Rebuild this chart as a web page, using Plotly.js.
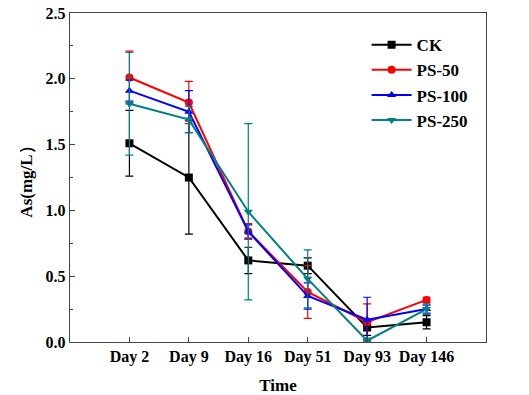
<!DOCTYPE html>
<html><head><meta charset="utf-8">
<script src="https://cdn.plot.ly/plotly-3.0.1.min.js"></script>
<style>body{margin:0;background:#fff}#c{width:529px;height:395px}</style>
</head><body><div id="c"></div>
<script>
const days = ["Day 2","Day 9","Day 16","Day 51","Day 93","Day 146"];
const ck = [1.51,1.25,0.62,0.58,0.11,0.15];
const ckErr = [0.25,0.43,0.10,0.06,0.06,0.05];
const ps50 = [2.01,1.82,0.84,0.38,0.15,0.32];
const ps50Err = [0.20,0.16,0.06,0.20,0.14,0.02];
const ps100 = [1.91,1.75,0.84,0.35,0.17,0.25];
const ps100Err = [0.08,0.16,0.05,0.10,0.17,0.03];
const ps250 = [1.81,1.69,0.99,0.48,0.01,0.25];
const ps250Err = [0.39,0.10,0.67,0.22,0.02,0.04];
const names = ["CK","PS-50","PS-100","PS-250"];
const colors = ["#000000","#ff0000","#0000ff","#008080"];
const symbols = ["square","circle","triangle-up","triangle-down"];
const ys = [ck,ps50,ps100,ps250];
const errs = [ckErr,ps50Err,ps100Err,ps250Err];
const xi = days.map((d,i)=>i);
const traces = ys.map((y,k)=>({
  x: xi, y: y, name: names[k], type:'scatter', mode:'lines+markers',
  line:{color:colors[k], width:2},
  marker:{symbol:symbols[k], color:colors[k], size:8},
  error_y:{type:'data', array:errs[k], visible:true, color:colors[k], thickness:1.2, width:4}
}));
const font = {family:"Liberation Serif, Times New Roman, serif", color:"#000"};
const layout = {
  width:529, height:395,
  margin:{l:70, r:43, t:13, b:53},
  paper_bgcolor:'#fff', plot_bgcolor:'#fff',
  showlegend:true,
  legend:{x:0.713, y:0.957, xanchor:'left', yanchor:'top', bgcolor:'rgba(0,0,0,0)',
    font:Object.assign({size:17, weight:'bold'}, font), tracegroupgap:0, itemwidth:40},
  xaxis:{range:[-1,6], tickvals:xi, ticktext:days, ticks:'inside', ticklen:5,
    showline:true, mirror:true, linecolor:'#444', linewidth:1.2, showgrid:false, zeroline:false,
    tickfont:Object.assign({size:16, weight:'bold'}, font),
    title:{text:'Time', font:Object.assign({size:17, weight:'bold'}, font), standoff:16}},
  yaxis:{range:[0,2.5], tickvals:[0,0.5,1.0,1.5,2.0,2.5], ticktext:["0.0","0.5","1.0","1.5","2.0","2.5"],
    ticks:'inside', ticklen:5, minor:{dtick:0.25, ticks:'inside', ticklen:3},
    showline:true, mirror:true, linecolor:'#444', linewidth:1.2, showgrid:false, zeroline:false,
    tickfont:Object.assign({size:16, weight:'bold'}, font),
    title:{text:'As(mg/L\uFF09', font:Object.assign({size:17, weight:'bold'}, font), standoff:8}}
};
Plotly.newPlot('c', traces, layout, {displayModeBar:false, staticPlot:true});
</script></body></html>
